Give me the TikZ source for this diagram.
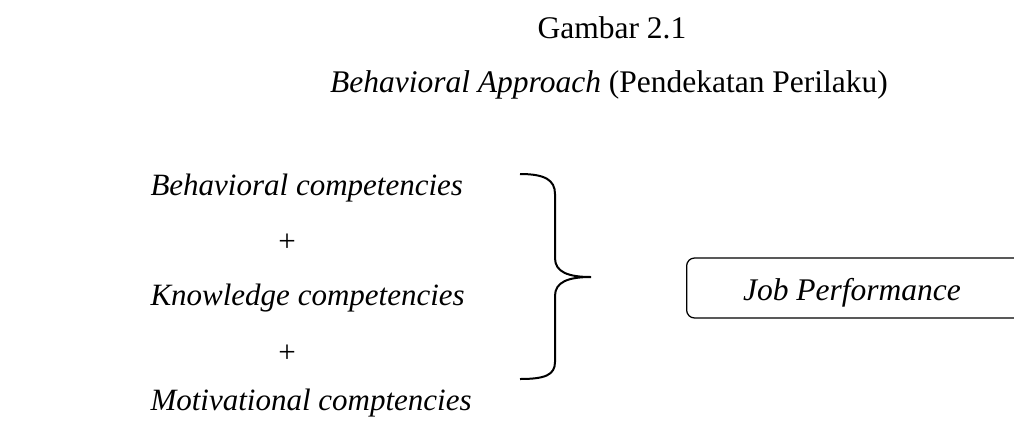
\documentclass[tikz,border=0pt]{standalone}
\usepackage{fontspec}
\setmainfont{Liberation Serif}

\begin{document}
\begin{tikzpicture}[x=0.4pt, y=-0.4pt,
        comp/.style={anchor=base west, inner sep=0pt, font=\fontsize{12.4}{14}\selectfont\itshape},
        plus/.style={inner sep=0pt, font=\fontsize{12.4}{14}\selectfont},
        caption/.style={anchor=base, inner sep=0pt, font=\fontsize{12.6}{15}\selectfont}]
        \clip (0,0) rectangle (1014,421);

        \node[caption] (Fig) at (612,38) {Gambar 2.1};
        \node[caption] (Title) at (609,92) {\textit{Behavioral Approach} (Pendekatan Perilaku)};

        \node[comp] (Beh) at (150,195) {Behavioral competencies};
        \node[plus] (PlusA) at (287,243) {+};
        \node[comp] (Know) at (150,305) {Knowledge competencies};
        \node[plus] (PlusB) at (287,354) {+};
        \node[comp] (Mot) at (150,410) {Motivational comptencies};

        % frame runs off the right edge
        \node[draw, rounded corners=3.2pt, line width=0.5pt, minimum width=144pt, minimum height=24pt,
              anchor=west] (JobBox) at (686,288) {};
        \node[caption, font=\fontsize{12.6}{15}\selectfont\itshape] (Job) at (852,300) {Job Performance};

        % curly brace
        \coordinate (Tip) at (591,277);
        \draw[line width=0.8pt] (520,174) .. controls (545,174) and (555,180) .. (555,194)
            -- (555,258) .. controls (555,272) and (568,277) .. (Tip)
            .. controls (568,277) and (555,282) .. (555,296)
            -- (555,362) .. controls (555,375) and (545,379) .. (520,379);
    \end{tikzpicture}
\end{document}
